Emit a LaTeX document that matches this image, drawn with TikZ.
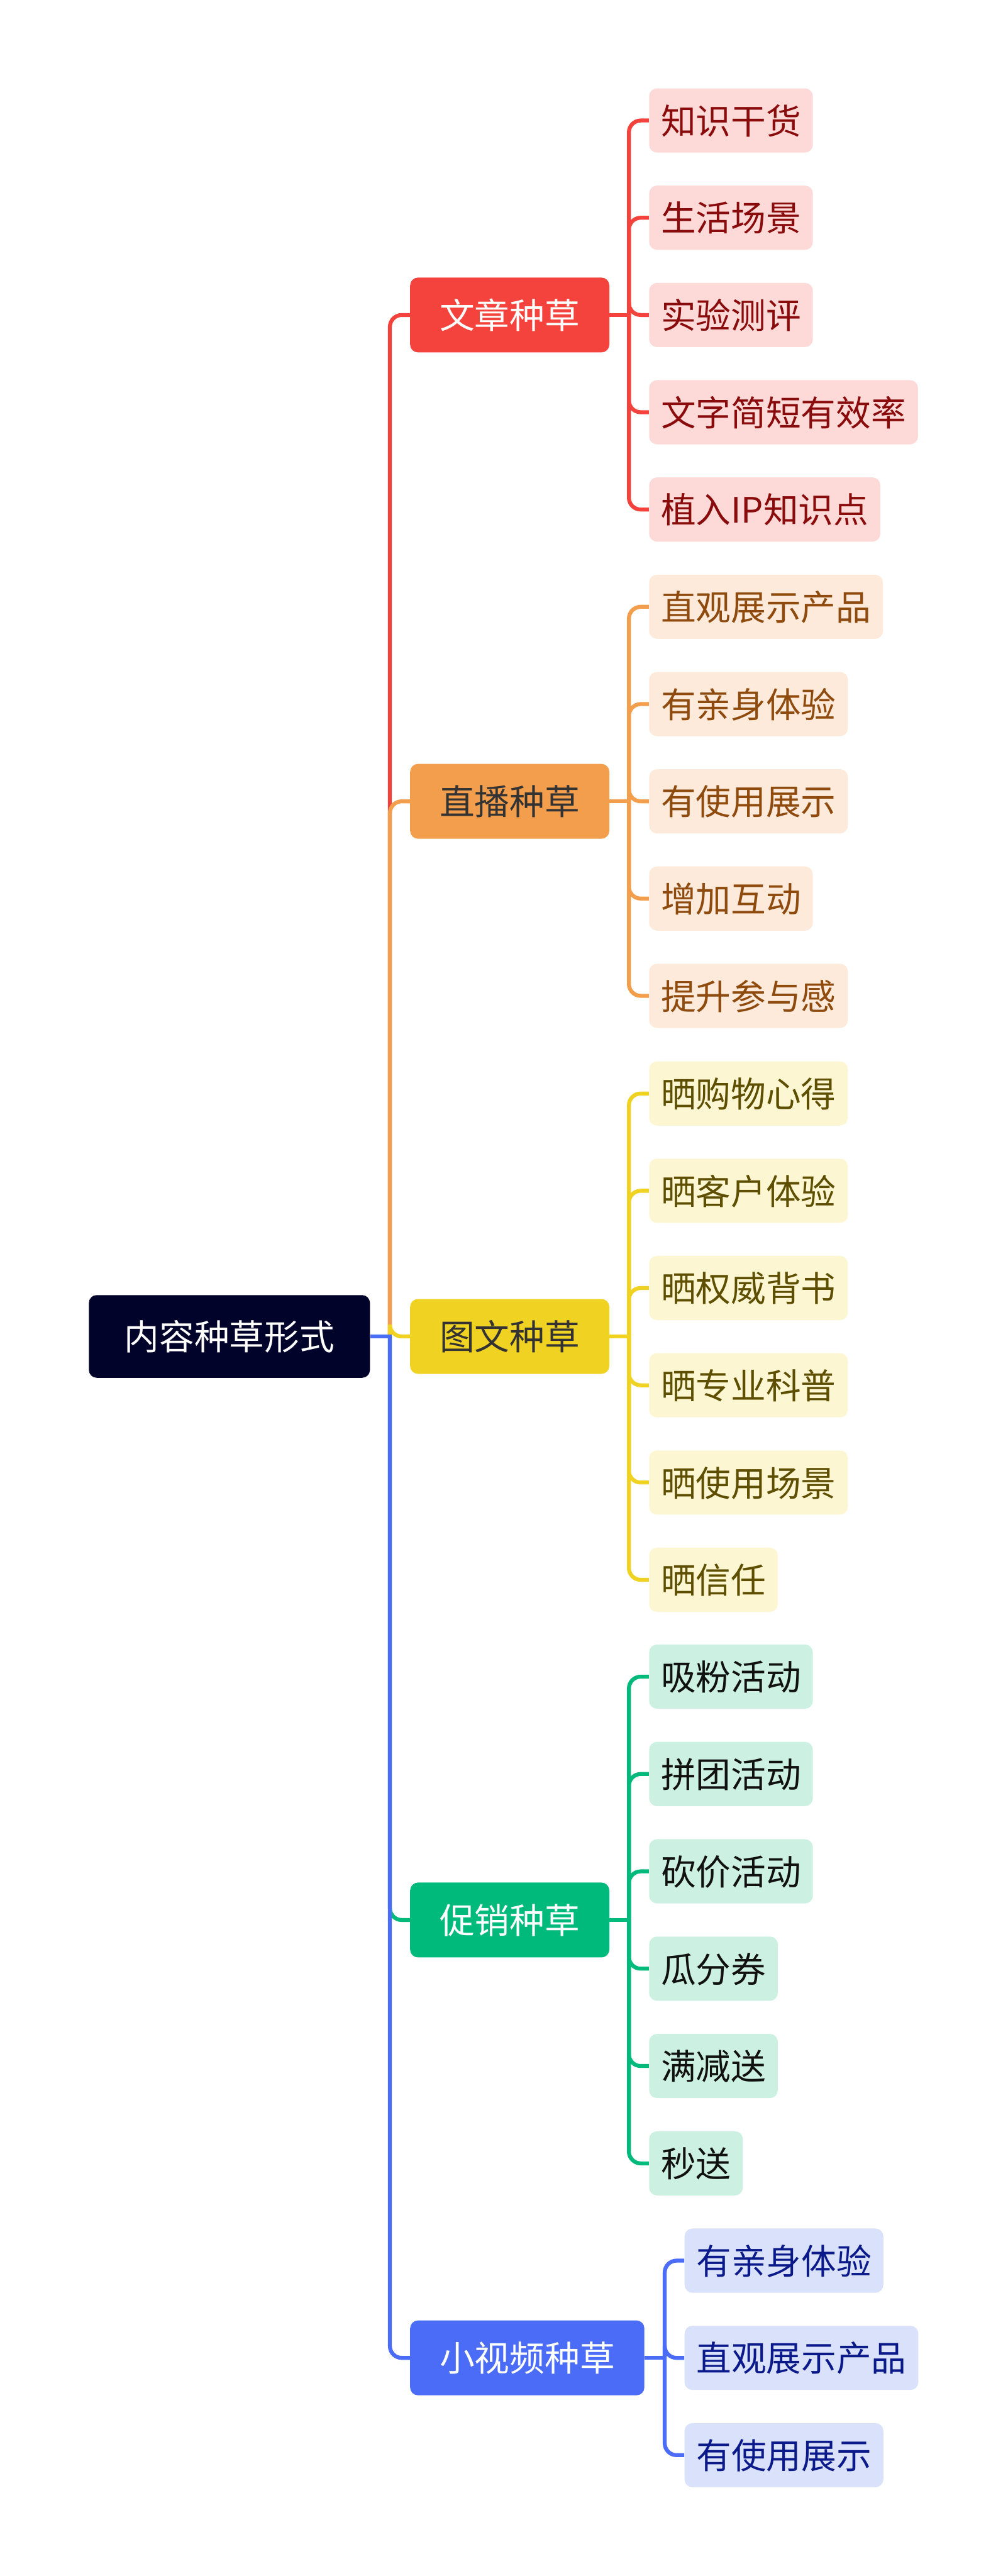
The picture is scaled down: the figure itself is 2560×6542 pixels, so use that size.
\documentclass[tikz,border=0pt]{standalone}
\usepackage{fontspec}
\newfontfamily\cjk{Noto Sans CJK SC}
\definecolor{rootc}{HTML}{02032A}
\definecolor{redc}{HTML}{F4433C}
\definecolor{redlf}{HTML}{FDDAD8}
\definecolor{redtx}{HTML}{8A0B0B}
\definecolor{orgc}{HTML}{F39E4C}
\definecolor{orglf}{HTML}{FDEADA}
\definecolor{orgtx}{HTML}{8F4A0E}
\definecolor{ylwc}{HTML}{F0D322}
\definecolor{ylwlf}{HTML}{FDF6D2}
\definecolor{ylwtx}{HTML}{5E4E00}
\definecolor{grnc}{HTML}{00BA7C}
\definecolor{grnlf}{HTML}{CCF1E3}
\definecolor{grntx}{HTML}{111111}
\definecolor{bluc}{HTML}{4A6CF7}
\definecolor{blulf}{HTML}{DAE1FA}
\definecolor{blutx}{HTML}{0B1A8A}
\definecolor{darktx}{HTML}{333333}
\tikzset{
  box/.style={anchor=west,rounded corners=0.2cm,font=\cjk\fontsize{25.3pt}{30pt}\selectfont,text height=19.7pt,text depth=0pt},
  rootbox/.style={box,fill=rootc,text=white,minimum height=2.1cm,inner xsep=0.9cm},
  topic/.style 2 args={box,fill=#1,text=#2,minimum height=1.9cm,inner xsep=0.75cm},
  leaf/.style 2 args={box,fill=#1,text=#2,minimum height=1.63cm,inner xsep=0.3cm},
  link/.style={line width=0.1cm,rounded corners=0.3cm}
}
\begin{document}
\begin{tikzpicture}[x=0.01cm,y=-0.01cm]
\useasboundingbox (0,0) rectangle (2560,6542);
%% root
\node[rootbox] (root) at (225,3394) {内容种草形式};
%% the five topics
\node[topic={redc}{white}] (wz) at (1041,800) {文章种草};
\node[topic={orgc}{darktx}] (zb) at (1041,2035) {直播种草};
\node[topic={ylwc}{darktx}] (tw) at (1041,3394) {图文种草};
\node[topic={grnc}{white}] (cx) at (1041,4876) {促销种草};
\node[topic={bluc}{white}] (sp) at (1041,5988) {小视频种草};
%% leaves
\foreach \t [count=\i] in {知识干货,生活场景,实验测评,文字简短有效率,植入IP知识点}
  \node[leaf={redlf}{redtx}] (wz\i) at (1648,{306+(\i-1)*247}) {\t};
\foreach \t [count=\i] in {直观展示产品,有亲身体验,有使用展示,增加互动,提升参与感}
  \node[leaf={orglf}{orgtx}] (zb\i) at (1648,{1541+(\i-1)*247}) {\t};
\foreach \t [count=\i] in {晒购物心得,晒客户体验,晒权威背书,晒专业科普,晒使用场景,晒信任}
  \node[leaf={ylwlf}{ylwtx}] (tw\i) at (1648,{2777+(\i-1)*247}) {\t};
\foreach \t [count=\i] in {吸粉活动,拼团活动,砍价活动,瓜分券,满减送,秒送}
  \node[leaf={grnlf}{grntx}] (cx\i) at (1648,{4258+(\i-1)*247.2}) {\t};
\foreach \t [count=\i] in {有亲身体验,直观展示产品,有使用展示}
  \node[leaf={blulf}{blutx}] (sp\i) at (1738,{5741+(\i-1)*247}) {\t};
%% trunk from the root
\draw[link,redc] (root.east) ++(50,0) |- (wz.west);
\draw[link,orgc] (root.east) ++(50,0) |- (zb.west);
\draw[link,ylwc] (root.east) ++(50,0) |- (tw.west);
\draw[link,grnc] (root.east) ++(50,0) |- (cx.west);
\draw[link,bluc] (root.east) ++(50,0) |- (sp.west);
\draw[link,bluc] (root.east) -- ++(55,0);
%% topic to leaves
\draw[link,redc] (wz.east) -- ++(54,0);
\foreach \i in {1,...,5} \draw[link,redc] (wz.east) ++(49,0) |- (wz\i.west);
\draw[link,orgc] (zb.east) -- ++(54,0);
\foreach \i in {1,...,5} \draw[link,orgc] (zb.east) ++(49,0) |- (zb\i.west);
\draw[link,ylwc] (tw.east) -- ++(54,0);
\foreach \i in {1,...,6} \draw[link,ylwc] (tw.east) ++(49,0) |- (tw\i.west);
\draw[link,grnc] (cx.east) -- ++(54,0);
\foreach \i in {1,...,6} \draw[link,grnc] (cx.east) ++(49,0) |- (cx\i.west);
\draw[link,bluc] (sp.east) -- ++(56,0);
\foreach \i in {1,...,3} \draw[link,bluc] (sp.east) ++(51,0) |- (sp\i.west);
\end{tikzpicture}
\end{document}
